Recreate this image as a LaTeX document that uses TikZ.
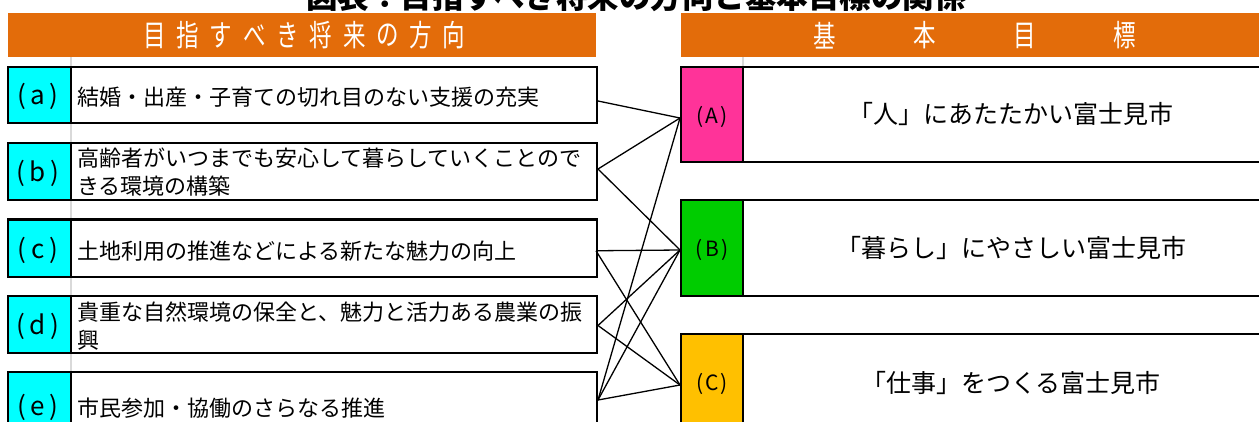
\documentclass[tikz,border=0pt]{standalone}
\usepackage{fontspec}
\setmainfont{Noto Sans CJK JP}
\usetikzlibrary{calc}
\definecolor{hdrorange}{HTML}{E36C0A}
\definecolor{cellcyan}{HTML}{00FFFF}
\definecolor{cellpink}{HTML}{FF3399}
\definecolor{cellgreen}{HTML}{00CC00}
\definecolor{cellgold}{HTML}{FFC000}
\definecolor{gridgray}{HTML}{D9D9D9}
\tikzset{
  hdrbar/.style={fill=hdrorange,draw=none,inner sep=0pt,outer sep=0pt,anchor=north west,minimum height=44.5pt},
  hdrchar/.style={text=white,inner sep=0pt,font=\fontsize{30}{30}\selectfont},
  lbox/.style={draw=black,line width=2.6pt,fill=white,inner sep=0pt,outer sep=0pt,anchor=north west,minimum width=589pt},
  lcell/.style={draw=black,line width=2.6pt,fill=cellcyan,inner sep=0pt,outer sep=0pt,anchor=north west,minimum width=63pt},
  rbox/.style={draw=black,line width=2.6pt,fill=white,inner sep=0pt,outer sep=0pt,anchor=north west,minimum width=620pt},
  rcell/.style={draw=black,line width=2.6pt,inner sep=0pt,outer sep=0pt,anchor=north west,minimum width=62pt},
  ltext/.style={anchor=west,inner sep=0pt,align=left,font=\fontsize{22}{27.5}\selectfont},
  llabel/.style={inner sep=0pt,font=\fontsize{26}{26}\selectfont},
  rtext/.style={inner sep=0pt,font=\fontsize{25}{25}\selectfont},
  rlabel/.style={inner sep=0pt,font=\fontsize{21}{21}\selectfont},
  conn/.style={draw=black,line width=1.3pt},
  grid/.style={draw=gridgray,line width=1.6pt}
}
\newcommand{\lab}[1]{(\hspace{0.18em}#1\hspace{0.18em})}
\newcommand{\rlab}[1]{(\hspace{0.1em}#1\hspace{0.1em})}
\begin{document}
\begin{tikzpicture}[x=1pt,y=-1pt]
\useasboundingbox (0,0) rectangle (1259,421);
% title (cut off at top)
\node[inner sep=0pt,font=\fontsize{31.5}{31.5}\selectfont\bfseries] (title) at (636,-3) {図表：目指すべき将来の方向と基本目標の関係};
% header bars
\node[hdrbar,minimum width=588pt] (hl) at (8,12.8) {};
\node[hdrbar,minimum width=590pt] (hr) at (681,12.8) {};
\foreach \ch [count=\i from 0] in {目,指,す,べ,き,将,来,の,方,向}
  \node[hdrchar] (hc\i) at ({154.5+\i*33.3},35.5) {\scalebox{0.75}[1]{\ch}};
\foreach \ch [count=\i from 0] in {基,本,目,標}
  \node[hdrchar] (hk\i) at ({825+\i*100},35.5) {\scalebox{0.75}[1]{\ch}};
% gray grid lines
\coordinate (g1) at (71,57.3);
\coordinate (g2) at (71,421);
\draw[grid] (g1) -- (g2);
\coordinate (g3) at (743,57.3);
\coordinate (g4) at (743,67);
\draw[grid] (g3) -- (g4);
% left boxes
\node[lbox,minimum height=56pt] (a) at (8,67) {};
\node[lcell,minimum height=56pt] (la) at (8,67) {};
\node[lbox,minimum height=57pt] (b) at (8,143) {};
\node[lcell,minimum height=57pt] (lb) at (8,143) {};
\node[lbox,minimum height=57.5pt] (c) at (8,219.5) {};
\node[lcell,minimum height=57.5pt] (lc) at (8,219.5) {};
\node[lbox,minimum height=57pt] (d) at (8,296) {};
\node[lcell,minimum height=57pt] (ld) at (8,296) {};
\node[lbox,minimum height=60pt] (e) at (8,372) {};
\node[lcell,minimum height=60pt] (le) at (8,372) {};
\node[llabel] (xa) at (38,96) {\lab{a}};
\node[llabel] (xb) at (38,173) {\lab{b}};
\node[llabel] (xc) at (38,250) {\lab{c}};
\node[llabel] (xd) at (38,326.5) {\lab{d}};
\node[llabel] (xe) at (38,407) {\lab{e}};
\node[ltext] (ta) at (77,97) {結婚・出産・子育ての切れ目のない支援の充実};
\node[ltext] (tb) at (77,172) {高齢者がいつまでも安心して暮らしていくことので\\きる環境の構築};
\node[ltext] (tc) at (77,251) {土地利用の推進などによる新たな魅力の向上};
\node[ltext] (td) at (77,326) {貴重な自然環境の保全と、魅力と活力ある農業の振\\興};
\node[ltext] (te) at (77,408) {市民参加・協働のさらなる推進};
% right boxes
\node[rbox,minimum height=95pt] (A) at (681,67) {};
\node[rcell,fill=cellpink,minimum height=95pt] (lA) at (681,67) {};
\node[rbox,minimum height=96pt] (B) at (681,200) {};
\node[rcell,fill=cellgreen,minimum height=96pt] (lB) at (681,200) {};
\node[rbox,minimum height=96pt] (C) at (681,334) {};
\node[rcell,fill=cellgold,minimum height=96pt] (lC) at (681,334) {};
\node[rlabel] (xA) at (712,117) {\rlab{A}};
\node[rlabel] (xB) at (712,250) {\rlab{B}};
\node[rlabel] (xC) at (712,383.5) {\rlab{C}};
\node[rtext] (tA) at (1011,114) {「人」にあたたかい富士見市};
\node[rtext] (tB) at (1011,248) {「暮らし」にやさしい富士見市};
\node[rtext] (tC) at (1011,383) {「仕事」をつくる富士見市};
% connector end points
\coordinate (pa) at ($(a.east)+(1,6)$);
\coordinate (pb) at ($(b.east)+(1,-2.5)$);
\coordinate (pc) at ($(c.east)+(-1,2.5)$);
\coordinate (pd) at ($(d.east)+(1,1)$);
\coordinate (pe) at ($(e.east)+(1,-2)$);
\coordinate (qA) at ($(A.west)+(-1,3.5)$);
\coordinate (qB) at ($(B.west)+(-1,2)$);
\coordinate (qC) at ($(C.west)+(-1,3)$);
\draw[conn] (pa) -- (qA);
\draw[conn] (pb) -- (qA);
\draw[conn] (pb) -- (qB);
\draw[conn] (pc) -- (qB);
\draw[conn] (pc) -- (qC);
\draw[conn] (pd) -- (qB);
\draw[conn] (pd) -- (qC);
\draw[conn] (pe) -- (qA);
\draw[conn] (pe) -- (qB);
\draw[conn] (pe) -- (qC);
\end{tikzpicture}
\end{document}
